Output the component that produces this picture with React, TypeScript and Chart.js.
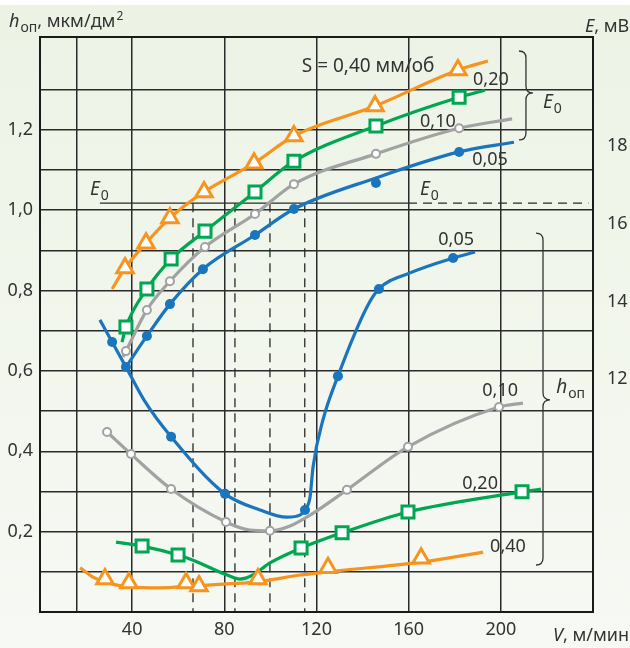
import React, { useEffect, useRef } from 'react';
import { Chart, registerables } from 'chart.js';

Chart.register(...registerables);

const FONT = '"Noto Sans", "Open Sans", sans-serif';

// ---- axes ----
const vGrid = [0, 16, 40, 80, 120, 160, 200, 240];
const vTickLabels = [40, 80, 120, 160, 200];
const hGrid = [0, 0.1, 0.2, 0.3, 0.4, 0.5, 0.6, 0.7, 0.8, 0.9, 1.0, 1.1, 1.2, 1.3];
const hTickLabels = [0.2, 0.4, 0.6, 0.8, 1.0, 1.2];
const eTickLabels = [12, 14, 16, 18];

// ---- E0 curves (mV, right axis) : [V, E] ----
const e0S040Line = [[31.3, 14.32], [36.9, 14.86], [46.0, 15.5], [56.4, 16.15], [71.2, 16.82], [92.9, 17.56], [110.2, 18.26], [145.4, 19.03], [181.4, 19.96], [194.4, 20.19]];
const e0S040Marks = [[36.9, 14.86], [46.0, 15.5], [56.4, 16.15], [71.2, 16.82], [92.9, 17.56], [110.2, 18.26], [145.4, 19.03], [181.4, 19.96]];

const e0S020Line = [[35.6, 12.95], [37.3, 13.34], [46.4, 14.32], [56.9, 15.09], [71.6, 15.81], [93.3, 16.82], [110.2, 17.61], [145.8, 18.52], [181.9, 19.26], [193.1, 19.44]];
const e0S020Marks = [[37.3, 13.34], [46.4, 14.32], [56.9, 15.09], [71.6, 15.81], [93.3, 16.82], [110.2, 17.61], [145.8, 18.52], [181.9, 19.26]];

const e0S010Line = [[36.0, 12.57], [37.3, 12.72], [46.4, 13.78], [56.4, 14.52], [71.6, 15.4], [93.3, 16.25], [110.2, 17.02], [145.8, 17.8], [181.9, 18.46], [204.9, 18.7]];
const e0S010Marks = [[37.3, 12.72], [46.4, 13.78], [56.4, 14.52], [71.6, 15.4], [93.3, 16.25], [110.2, 17.02], [145.8, 17.8], [181.9, 18.46]];

const e0S005Line = [[37.3, 12.31], [46.4, 13.11], [56.4, 13.93], [70.7, 14.83], [93.3, 15.71], [110.2, 16.38], [145.8, 17.18], [181.9, 17.85], [205.7, 18.1]];
const e0S005Marks = [[46.4, 13.11], [56.4, 13.93], [70.7, 14.83], [93.3, 15.71], [110.2, 16.38], [145.8, 17.05], [181.9, 17.85]];

// E0 level and crossing speeds
const e0Level = 16.53;
const e0SolidSpan = [26, 159.7];
const e0DashedSpan = [159.7, 238];
const e0Crossings = [66.4, 84.6, 99.8, 114.9];

// ---- h_оп curves (мкм/дм², left axis) : [V, h] ----
const hS005Line = [[26.0, 0.727], [31.3, 0.672], [37.3, 0.61], [45.1, 0.528], [56.9, 0.436], [80.3, 0.294], [95.5, 0.254], [107.2, 0.236], [112.8, 0.241], [115.0, 0.254], [117.2, 0.286], [118.5, 0.361], [122.8, 0.478], [129.3, 0.587], [141.9, 0.759], [147.1, 0.804], [160.6, 0.844], [179.3, 0.881], [188.8, 0.896]];
const hS005Marks = [[31.3, 0.672], [37.3, 0.61], [56.9, 0.436], [80.3, 0.294], [115.0, 0.254], [129.3, 0.587], [147.1, 0.804], [179.3, 0.881]];

const hS010Line = [[29.1, 0.448], [39.5, 0.393], [56.9, 0.306], [80.7, 0.224], [91.1, 0.204], [99.8, 0.202], [108.5, 0.214], [117.2, 0.241], [133.2, 0.304], [159.7, 0.411], [199.2, 0.51], [209.6, 0.52]];
const hS010Marks = [[29.1, 0.448], [39.5, 0.393], [56.9, 0.306], [80.7, 0.224], [99.8, 0.202], [133.2, 0.304], [159.7, 0.411], [199.2, 0.51]];

const hS020Line = [[33.0, 0.174], [44.3, 0.164], [59.9, 0.142], [66.4, 0.129], [81.2, 0.092], [86.8, 0.082], [92.4, 0.092], [99.8, 0.122], [113.3, 0.159], [131.1, 0.197], [159.7, 0.249], [209.2, 0.299], [217.4, 0.306]];
const hS020Marks = [[44.3, 0.164], [59.9, 0.142], [113.3, 0.159], [131.1, 0.197], [159.7, 0.249], [209.2, 0.299]];

const hS040Line = [[17.4, 0.11], [23.0, 0.087], [28.2, 0.075], [38.6, 0.062], [52.1, 0.06], [66.4, 0.065], [81.2, 0.07], [94.6, 0.075], [112.8, 0.092], [125.0, 0.1], [165.4, 0.124], [192.3, 0.149]];
const hS040Marks = [[28.2, 0.082], [38.6, 0.072], [63.4, 0.072], [69.0, 0.065], [94.6, 0.082], [125.0, 0.11], [165.4, 0.134]];

const ORANGE = '#f7941d';
const GREEN = '#00a651';
const GRAY = '#a2a2a2';
const BLUE = '#1b75bc';
const INK = '#2a2a2a';
const TEXT = '#333333';

const pts = (arr: number[][]) => arr.map(([x, y]) => ({ x, y }));

function lineDs(data: number[][], color: string, axis: string) {
  return {
    type: 'line', data: pts(data), yAxisID: axis, borderColor: color, borderWidth: 3.2,
    pointRadius: 0, cubicInterpolationMode: 'monotone', fill: false, order: 2,
  };
}
function markDs(data: number[][], color: string, axis: string, style: string, r: number, filled: boolean, bw: number) {
  return {
    type: 'line', data: pts(data), yAxisID: axis, showLine: false,
    pointStyle: style, pointRadius: r, pointBorderWidth: bw,
    pointBorderColor: color, pointBackgroundColor: filled ? color : '#ffffff',
    borderColor: color, backgroundColor: filled ? color : '#ffffff', order: 1,
  };
}
function refDs(data: number[][], dashed: boolean) {
  return {
    type: 'line', data: pts(data), yAxisID: 'yE', borderColor: INK, borderWidth: 1.3,
    borderDash: dashed ? [9, 6] : [], pointRadius: 0, tension: 0, fill: false, order: 3,
  };
}

function drawSub(ctx: CanvasRenderingContext2D, x: number, base: number, main: string, sub: string, size: number) {
  ctx.textAlign = 'left';
  ctx.textBaseline = 'alphabetic';
  ctx.font = `italic ${size}px ${FONT}`;
  ctx.fillText(main, x, base);
  const w = ctx.measureText(main).width;
  ctx.font = `${Math.round(size * 0.75)}px ${FONT}`;
  ctx.fillText(sub, x + w + 1, base + size * 0.28);
  return x + w + 1 + ctx.measureText(sub).width;
}

function brace(ctx: CanvasRenderingContext2D, x: number, yTop: number, yMid: number, yBot: number, w: number) {
  ctx.beginPath();
  ctx.moveTo(x - w, yTop);
  ctx.quadraticCurveTo(x, yTop, x, yTop + w);
  ctx.lineTo(x, yMid - w);
  ctx.quadraticCurveTo(x, yMid, x + w, yMid);
  ctx.quadraticCurveTo(x, yMid, x, yMid + w);
  ctx.lineTo(x, yBot - w);
  ctx.quadraticCurveTo(x, yBot, x - w, yBot);
  ctx.stroke();
}

const decor = {
  id: 'decor',
  beforeDraw(chart: any) {
    const { ctx, width, height } = chart;
    ctx.save();
    ctx.fillStyle = '#ffffff';
    ctx.fillRect(0, 0, width, height);
    const g = ctx.createLinearGradient(0, 5, 0, height);
    g.addColorStop(0, '#ecf3e5');
    g.addColorStop(1, '#f7f9f4');
    ctx.fillStyle = g;
    ctx.fillRect(0, 5, width, height - 5);
    ctx.restore();
  },
  afterDatasetsDraw(chart: any) {
    const { ctx, chartArea: a, scales } = chart;
    const X = (v: number) => scales.x.getPixelForValue(v);
    const H = (v: number) => scales.y.getPixelForValue(v);
    const E = (v: number) => scales.yE.getPixelForValue(v);
    ctx.save();
    ctx.strokeStyle = '#1a1a1a';
    ctx.lineWidth = 2;
    ctx.strokeRect(a.left, a.top, a.right - a.left, a.bottom - a.top);

    ctx.fillStyle = TEXT;
    ctx.font = `18px ${FONT}`;
    ctx.textAlign = 'center';
    ctx.textBaseline = 'middle';
    const lab = (s: string, x: number, y: number) => ctx.fillText(s, x, y);
    lab('0,20', X(195.7), E(19.7));
    lab('0,10', X(172.7), E(18.62));
    lab('0,05', X(195.3), E(17.64));
    lab('0,05', X(180.6), H(0.926));
    lab('0,10', X(199.7), H(0.55));
    lab('0,20', X(191.0), H(0.319));
    lab('0,40', X(203.1), H(0.162));
    ctx.font = `19px ${FONT}`;
    lab('S = 0,40 мм/об', X(142.4), E(20.06));

    drawSub(ctx, X(21.7), E(16.74), 'E', '0', 19);
    drawSub(ctx, X(164.9), E(16.74), 'E', '0', 19);
    drawSub(ctx, X(218.3), E(18.98), 'E', '0', 19);
    drawSub(ctx, X(224.0), H(0.545), 'h', 'оп', 19);

    ctx.strokeStyle = '#333';
    ctx.lineWidth = 1.3;
    brace(ctx, X(210.9), E(20.45), E(19.37), E(18.16), 7);
    brace(ctx, X(218.3), H(0.943), H(0.528), H(0.117), 7);
    ctx.restore();
  },
  afterDraw(chart: any) {
    const { ctx } = chart;
    ctx.save();
    ctx.fillStyle = TEXT;
    // left axis title
    let x = drawSub(ctx, 9, 27, 'h', 'оп', 18);
    ctx.font = `18px ${FONT}`;
    ctx.fillText(', мкм/дм', x, 27);
    x += ctx.measureText(', мкм/дм').width;
    ctx.font = `12px ${FONT}`;
    ctx.fillText('2', x + 1, 20);
    // right axis title
    ctx.font = `italic 18px ${FONT}`;
    ctx.fillText('E', 585, 32);
    let w = ctx.measureText('E').width;
    ctx.font = `18px ${FONT}`;
    ctx.fillText(', мВ', 585 + w, 32);
    // x axis title
    ctx.font = `italic 18px ${FONT}`;
    ctx.fillText('V', 553, 641);
    w = ctx.measureText('V').width;
    ctx.font = `18px ${FONT}`;
    ctx.fillText(', м/мин', 553 + w, 641);
    ctx.restore();
  },
};

const fmt = (v: number) => v.toFixed(1).replace('.', ',');
const has = (arr: number[], v: number) => arr.some((a) => Math.abs(a - v) < 1e-6);

export default function App() {
  const ref = useRef<HTMLCanvasElement>(null);
  useEffect(() => {
    if (!ref.current) return;
    const datasets: any[] = [
      markDs(e0S040Marks, ORANGE, 'yE', 'triangle', 9.5, false, 3),
      markDs(e0S020Marks, GREEN, 'yE', 'rect', 8.5, false, 3),
      markDs(e0S010Marks, GRAY, 'yE', 'circle', 4, false, 2),
      markDs(e0S005Marks, BLUE, 'yE', 'circle', 5, true, 0),
      markDs(hS005Marks, BLUE, 'y', 'circle', 5, true, 0),
      markDs(hS010Marks, GRAY, 'y', 'circle', 4, false, 2),
      markDs(hS020Marks, GREEN, 'y', 'rect', 8.5, false, 3),
      markDs(hS040Marks, ORANGE, 'y', 'triangle', 9.5, false, 3),
      lineDs(e0S040Line, ORANGE, 'yE'),
      lineDs(e0S020Line, GREEN, 'yE'),
      lineDs(e0S010Line, GRAY, 'yE'),
      lineDs(e0S005Line, BLUE, 'yE'),
      lineDs(hS005Line, BLUE, 'y'),
      lineDs(hS010Line, GRAY, 'y'),
      lineDs(hS020Line, GREEN, 'y'),
      lineDs(hS040Line, ORANGE, 'y'),
      refDs([[e0SolidSpan[0], e0Level], [e0SolidSpan[1], e0Level]], false),
      refDs([[e0DashedSpan[0], e0Level], [e0DashedSpan[1], e0Level]], true),
      ...e0Crossings.map((v) => refDs([[v, e0Level], [v, 6]], true)),
    ];
    const chart = new Chart(ref.current, {
      type: 'line',
      data: { datasets },
      plugins: [decor],
      options: {
        animation: false,
        responsive: false,
        devicePixelRatio: 1,
        events: [],
        layout: { padding: { top: 37, left: 0, right: 0, bottom: 0 } },
        plugins: { legend: { display: false }, tooltip: { enabled: false } },
        scales: {
          x: {
            type: 'linear', min: 0, max: 240,
            afterBuildTicks: (s: any) => { s.ticks = vGrid.map((value) => ({ value })); },
            afterFit: (s: any) => { s.height = 36; },
            grid: { color: INK, lineWidth: 1.5, drawTicks: false },
            border: { display: false },
            ticks: {
              autoSkip: false, maxRotation: 0, padding: 7, color: TEXT,
              font: { family: FONT, size: 18 },
              callback: (v: any) => (vTickLabels.includes(Number(v)) ? String(v) : ''),
            },
          },
          y: {
            type: 'linear', position: 'left', min: 0, max: 1.431,
            afterBuildTicks: (s: any) => { s.ticks = hGrid.map((value) => ({ value })); },
            afterFit: (s: any) => { s.width = 40; },
            grid: { color: INK, lineWidth: 1.5, drawTicks: false },
            border: { display: false },
            ticks: {
              padding: 7, color: TEXT, autoSkip: false,
              font: { family: FONT, size: 18 },
              callback: (v: any) => (has(hTickLabels, Number(v)) ? fmt(Number(v)) : ''),
            },
          },
          yE: {
            type: 'linear', position: 'right', min: 6, max: 20.81,
            afterBuildTicks: (s: any) => { s.ticks = eTickLabels.map((value) => ({ value })); },
            afterFit: (s: any) => { s.width = 37; },
            grid: { display: false, drawTicks: false },
            border: { display: false },
            ticks: {
              padding: 14, color: TEXT, autoSkip: false,
              font: { family: FONT, size: 18 },
              callback: (v: any) => String(v),
            },
          },
        },
      } as any,
    } as any);
    return () => chart.destroy();
  }, []);
  return (
    <div style={{ position: 'absolute', left: 0, top: 0, width: 630, height: 648 }}>
      <canvas ref={ref} width={630} height={648} style={{ display: 'block', width: 630, height: 648 }} />
    </div>
  );
}
